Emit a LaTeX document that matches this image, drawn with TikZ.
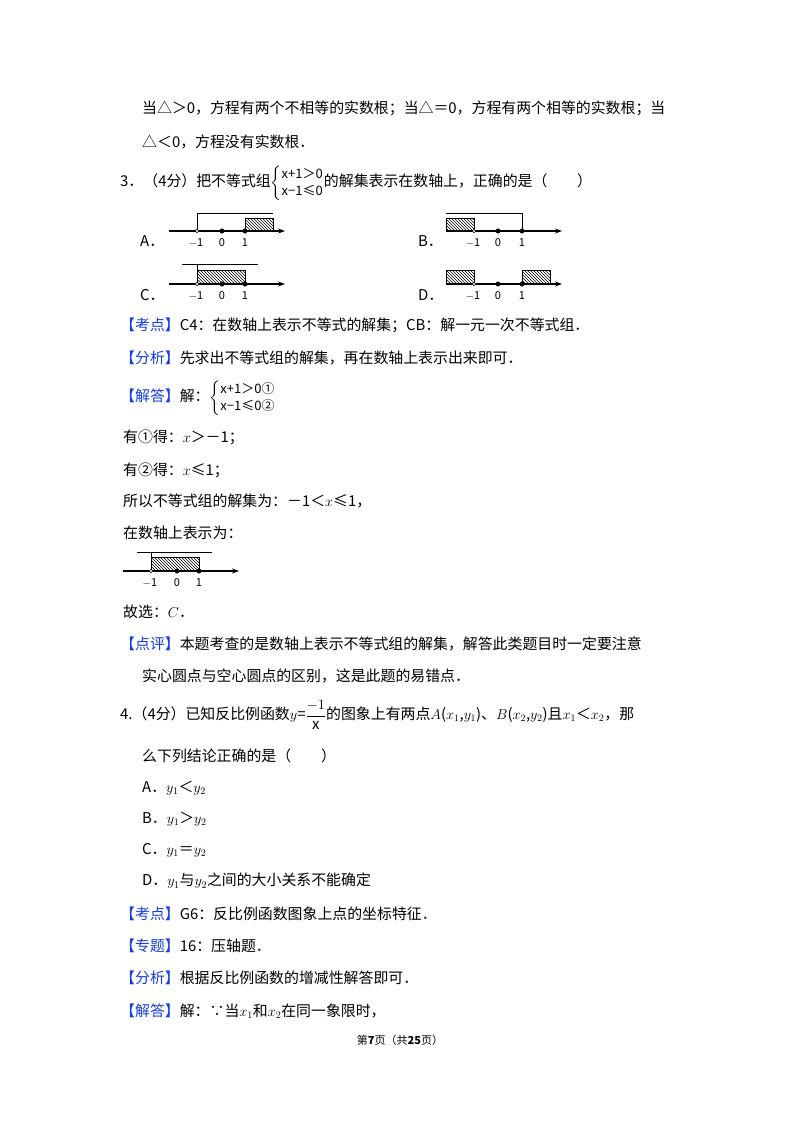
\documentclass[tikz,border=0pt]{standalone}
\usepackage{fontspec}
\usepackage{amsmath}
\setmainfont{Noto Sans CJK SC}
\usetikzlibrary{patterns,arrows.meta}
\definecolor{kblue}{RGB}{20,60,230}
\newcommand{\kd}[1]{\textcolor{kblue}{【#1】}}
\newcommand{\st}[1]{\text{\fontsize{13}{14}\selectfont #1}}
\begin{document}
\begin{tikzpicture}[x=1pt,y=-1pt,
 tx/.style={anchor=west,inner sep=0,font=\fontsize{14.9}{20}\selectfont},
 sm/.style={inner sep=0,font=\fontsize{11}{12}\selectfont},
 ax/.style={line width=1.1pt,-{Stealth[length=7pt,width=5pt]}},
 hat/.style={pattern=north west lines,draw,line width=0.8pt},
 ln/.style={line width=0.9pt},
 op/.style={circle,draw,fill=white,inner sep=0,minimum size=3.5pt},
 fd/.style={circle,draw,fill=black,inner sep=0,minimum size=4.5pt}]
\useasboundingbox (0,0) rectangle (800,1132);
\node[tx] (l1) at (142,108) {当△＞0，方程有两个不相等的实数根；当△＝0，方程有两个相等的实数根；当};
\node[tx] (l2) at (142,142) {△＜0，方程没有实数根．};
\node[tx] (l3) at (120,183) {3．（4分）把不等式组$\left\{\begin{array}{@{}l@{}}\st{x+1＞0}\\[-3pt]\st{x−1≤0}\end{array}\right.$的解集表示在数轴上，正确的是（\quad\quad）};
\node[tx] (oa) at (140,241) {A．};
\node[tx] (ob) at (418,241) {B．};
\node[tx] (oc) at (140,295) {C．};
\node[tx] (od) at (418,295) {D．};
% A
\draw[hat] (245,218) rectangle (273,231);
\draw[ln] (197,231) -- (197,213) -- (273,213);
\draw[ax] (169,231) -- (285,231);
\node[op] (am1) at (197,231) {}; \node[fd] (a0) at (222,231) {}; \node[fd] (a1) at (245,231) {};
\node[sm] at (196,243) {$-$1}; \node[sm] at (222,243) {0}; \node[sm] at (245,243) {1};
% B
\draw[hat] (446,218) rectangle (474,231);
\draw[ln] (446,213) -- (522,213) -- (522,231);
\draw[ax] (446,231) -- (562,231);
\node[op] (bm1) at (474,231) {}; \node[fd] (b0) at (498,231) {}; \node[fd] (b1) at (522,231) {};
\node[sm] at (473,243) {$-$1}; \node[sm] at (498,243) {0}; \node[sm] at (522,243) {1};
% C
\draw[hat] (197,270) rectangle (245,284);
\draw[ln] (182,264) -- (258,264); \draw[ln] (197,264) -- (197,270);
\draw[ax] (169,284) -- (285,284);
\node[op] (cm1) at (197,284) {}; \node[fd] (c0) at (222,284) {}; \node[fd] (c1) at (245,284) {};
\node[sm] at (196,296) {$-$1}; \node[sm] at (222,296) {0}; \node[sm] at (245,296) {1};
% D
\draw[hat] (446,270) rectangle (474,284);
\draw[hat] (522,270) rectangle (550,284);
\draw[ax] (446,284) -- (562,284);
\node[op] (dm1) at (474,284) {}; \node[fd] (d0) at (498,284) {}; \node[fd] (d1) at (522,284) {};
\node[sm] at (473,296) {$-$1}; \node[sm] at (498,296) {0}; \node[sm] at (522,296) {1};
% analysis
\node[tx] (k1) at (120,325) {\kd{考点}C4：在数轴上表示不等式的解集；CB：解一元一次不等式组．};
\node[tx] (k2) at (120,358) {\kd{分析}先求出不等式组的解集，再在数轴上表示出来即可．};
\node[tx] (k3) at (120,398) {\kd{解答}解：$\left\{\begin{array}{@{}l@{}}\st{x+1＞0①}\\[-3pt]\st{x−1≤0②}\end{array}\right.$};
\node[tx] (k4) at (123,437) {有①得：$x$＞－1；};
\node[tx] (k5) at (123,470) {有②得：$x$≤1；};
\node[tx] (k6) at (123,501) {所以不等式组的解集为：－1＜$x$≤1，};
\node[tx] (k7) at (123,533) {在数轴上表示为：};
\draw[hat] (151,557) rectangle (199,571);
\draw[ln] (137,552) -- (212,552); \draw[ln] (151,552) -- (151,557);
\draw[ax] (123,571) -- (239,571);
\node[op] (em1) at (151,571) {}; \node[fd] (e0) at (177,571) {}; \node[fd] (e1) at (199,571) {};
\node[sm] at (150,583) {$-$1}; \node[sm] at (177,583) {0}; \node[sm] at (199,583) {1};
\node[tx] (k8) at (123,612) {故选：$C$．};
\node[tx] (k9) at (120,644) {\kd{点评}本题考查的是数轴上表示不等式组的解集，解答此类题目时一定要注意};
\node[tx] (k10) at (142,676) {实心圆点与空心圆点的区别，这是此题的易错点．};
% Q4
\node[tx] (q1) at (120,715) {4.（4分）已知反比例函数$y$=$\dfrac{-1}{\text{x}}$的图象上有两点$A$($x_1$,$y_1$)、$B$($x_2$,$y_2$)且$x_1$＜$x_2$，那};
\node[tx] (q2) at (142,756) {么下列结论正确的是（\quad\quad）};
\node[tx] (q3) at (142,788) {A．$y_1$＜$y_2$};
\node[tx] (q4) at (142,819) {B．$y_1$＞$y_2$};
\node[tx] (q5) at (142,850) {C．$y_1$＝$y_2$};
\node[tx] (q6) at (142,881) {D．$y_1$与$y_2$之间的大小关系不能确定};
\node[tx] (q7) at (120,914) {\kd{考点}G6：反比例函数图象上点的坐标特征．};
\node[tx] (q8) at (120,946) {\kd{专题}16：压轴题．};
\node[tx] (q9) at (120,978) {\kd{分析}根据反比例函数的增减性解答即可．};
\node[tx] (q10) at (120,1011) {\kd{解答}解：∵当$x_1$和$x_2$在同一象限时，};
\node[inner sep=0,font=\fontsize{11}{12}\selectfont] (ft) at (400,1040) {第\textbf{7}页（共\textbf{25}页）};
\end{tikzpicture}
\end{document}
